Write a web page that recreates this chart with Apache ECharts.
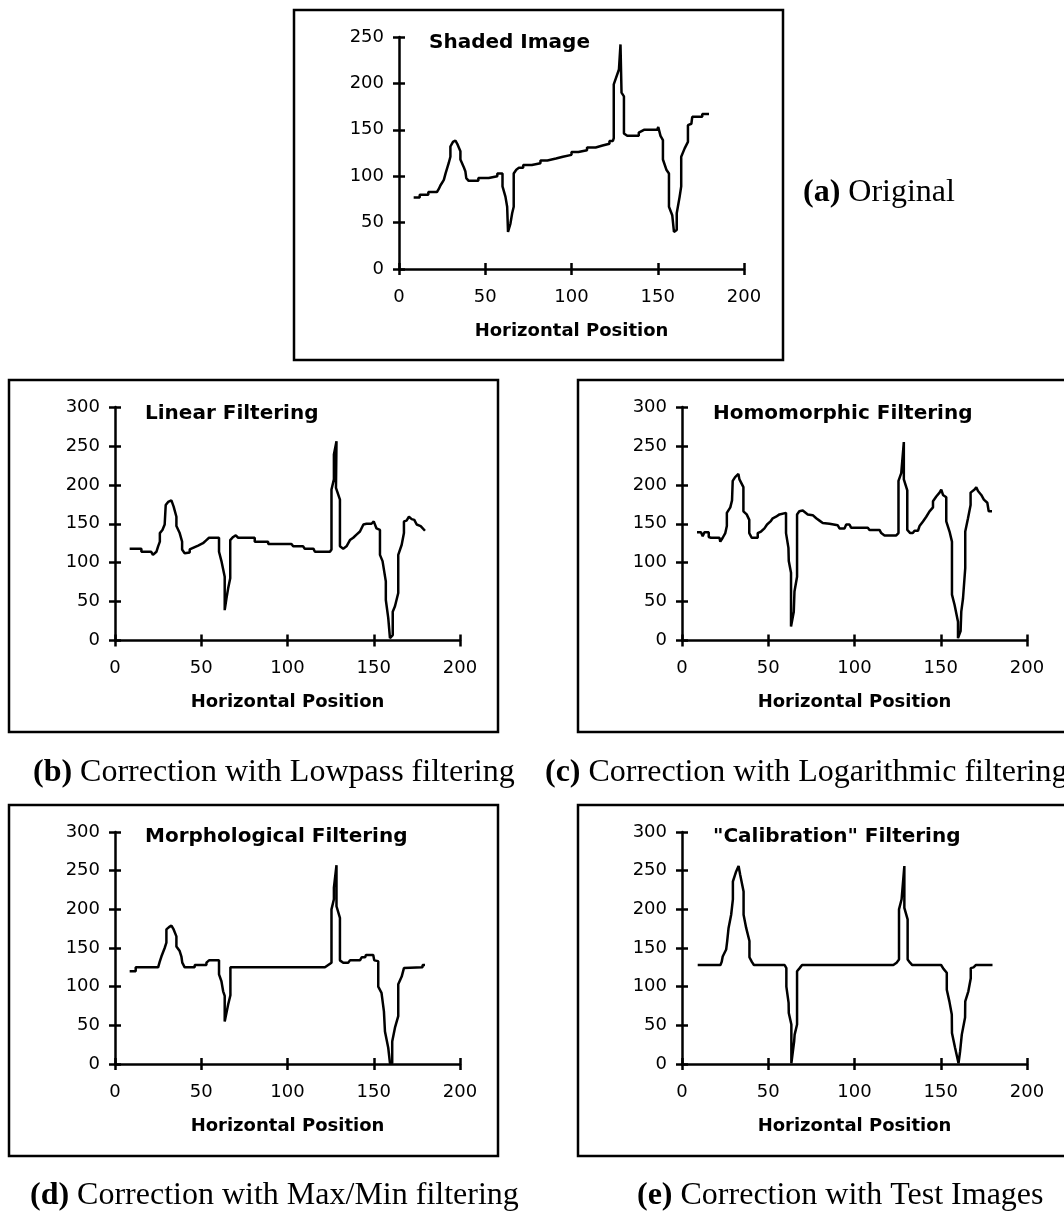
<!DOCTYPE html>
<html>
<head>
<meta charset="utf-8">
<script src="https://cdn.jsdelivr.net/npm/echarts@6/dist/echarts.min.js"></script>
<style>
  html, body { margin: 0; padding: 0; background: #fff; }
  #chart { width: 1064px; height: 1211px; }
</style>
</head>
<body>
<div id="chart"></div>
<script>
// line profiles, [horizontal position, value]
const shadedImage = [[8.5,77],[12,77],[12,80],[17,80],[17,83],[22,83],[23,86],[24,90],[26,96],[27,103],[28.8,114],[29.8,121],[29.8,132],[31.3,137],[32.7,138.5],[34,134],[35.6,127],[35.6,118],[37.5,110],[38.5,105],[39,98],[40.4,95],[46,95],[46,98],[52,98],[52,100],[57,100],[57,103],[60,103],[60,89],[61.7,78],[62.7,67],[63.2,40],[64.6,49],[65.6,60],[66.5,67],[66.5,103],[68,107],[69.5,109],[72,109],[72,112],[77,112],[77,114],[82,114],[82,117],[86,117],[86,119],[91,119],[91,121],[95,121],[95,123],[100,123],[100,126],[104,126],[104,128],[109,128],[109,131],[114,131],[114,133],[118,133],[118,135],[122,135],[122,138],[124,138],[124.5,141],[124.5,199],[127.5,215],[128.4,242],[129,190],[130.4,186],[130.4,146],[132.3,143.5],[139,143.5],[139,147],[142,150],[149.7,150],[150.3,153],[151.6,143.5],[153,139],[153,118],[155,107],[156.5,103],[156.5,67],[158.4,58],[159.4,40],[161,42],[161,60],[162.7,78],[163.6,89],[163.6,121],[165.6,130],[167.5,137],[167.5,155],[169.5,156.5],[170,164],[175.8,164],[175.8,167],[179.7,167]]

const linearFiltering = [[8.5,118],[15.3,118],[15.3,114],[21,114],[22,110],[24,114],[25,121],[26,127],[26,138],[27.5,142],[28.8,149],[29.4,174],[30.8,178],[32.7,180],[34,172],[35.6,159],[35.6,147],[37.5,138],[38.9,127],[38.9,117],[40.4,112],[43.3,113],[43.3,117],[46.2,120],[48.2,122],[51,125],[53,129],[54.5,132],[60.3,132],[60.3,114],[61.7,102],[63.6,82],[63.6,39],[64.6,54],[65.6,67],[66.8,80],[66.8,129],[68.5,133],[70,135],[71.4,132],[81,132],[81,127],[88.8,127],[88.8,124],[102.3,124],[103.3,121],[109,121],[110,118],[115,118],[115.9,114],[124.6,114],[125.5,117],[125.5,194],[126.9,207],[126.9,239],[128.4,256],[128.1,196],[130.4,181],[130.4,121],[132.3,118],[134.2,121],[136.2,129],[138.1,132],[140,136],[142,140],[144,149],[145.8,150],[148.7,150],[150,153],[151.6,144],[153.6,142],[153.6,110],[155.1,102],[157,76],[157,52],[158.4,29],[159.4,3],[161,7],[161,37],[162.3,44],[164.2,61],[164.2,110],[166.2,123],[167.5,138],[167.5,153],[169,154],[170.4,159],[172,156],[173.5,155],[174.9,149],[177.2,147],[179.7,141]]

const homomorphicFiltering = [[8.7,139],[11,139],[12,134],[13,139],[15.5,139],[15.5,133],[16.8,132],[21.7,132],[22.2,127],[23.6,132],[25.1,138],[26,147],[26,164],[28,171],[29,180],[29.4,205],[30.8,210],[32.7,214],[33.3,207],[35.6,197],[35.6,166],[37.5,162],[39,155],[39,138],[40.4,132],[43.9,132],[43.9,138],[45.8,140],[47.8,144],[49.3,149],[51.3,153],[52.6,157],[54.5,159],[56.5,162],[57.4,164],[60.3,164],[60.3,138],[61.7,119],[61.9,102],[63.2,87],[63.2,18],[64.8,37],[65.2,63],[66.7,82],[66.7,162],[68,166],[70,167],[72.9,162],[75.8,161],[77.8,157],[79.7,154],[81.6,151],[85.5,150],[90.3,148],[91.3,144],[94.2,144],[95.2,149],[97.1,149],[98,145],[107.7,145],[108.7,142],[114.5,142],[115.5,138],[117.4,135],[124.2,135],[125.5,138],[125.5,205],[127.1,215],[128.6,255],[128.6,207],[130.6,193],[130.6,142],[132.3,138],[133.8,138],[134.8,141],[136.8,141],[137.7,147],[139.7,153],[141.6,159],[143.5,166],[145.5,171],[145.5,179],[147.4,185],[149.3,190],[150.3,194],[151.3,187],[153.2,184],[153.2,153],[155.1,140],[156.5,127],[156.5,59],[158,46],[160,24],[160,3],[161.5,12],[161.9,37],[162.9,54],[164.2,93],[164.2,140],[165.8,157],[167.3,174],[167.3,190],[169.6,194],[170.6,197],[171.6,192],[173.5,187],[175,181],[177,177],[177.8,166],[179.7,166]]

const morphologicalFiltering = [[8.5,120],[12,120],[12,125],[25,125],[25.9,132],[26.9,139],[28.8,150],[29.8,157],[29.8,174],[31.3,177],[32.7,179],[34,174],[35.6,165],[35.6,152],[37.5,146],[38.5,139],[39,131],[40.4,125],[46.2,125],[46.2,128],[53,128],[53,131],[54.5,134],[60.3,134],[60.3,116],[61.7,107],[62.7,94],[63.6,88],[63.6,55],[64.6,66],[65.6,77],[66.9,89],[66.9,125],[121.7,125],[123.6,128],[125.5,131],[125.5,200],[126.9,213],[126.9,228],[128.4,257],[128.4,204],[130.4,189],[130.4,134],[132.3,131],[135.2,131],[136.2,134],[142,134],[143,138],[145,138],[145.5,141],[149.7,141],[150.3,134],[152.6,133],[152.6,100],[154.5,92],[155.9,68],[156.5,42],[158.4,21],[159.4,1],[160.7,1],[160.7,29],[162.3,47],[164.2,62],[164.2,103],[166.2,113],[167.5,124],[167.5,125],[178.3,125],[178.3,128],[179.7,128]]

const calibrationFiltering = [[9.1,128],[22.3,128],[23,132],[23.6,139],[25.6,148],[26.2,159],[27,176],[28.5,193],[29.5,213],[29.5,236],[31.4,249],[32.8,256],[33.7,245],[35.7,223],[35.7,193],[37.2,176],[39.1,159],[39.1,138],[40.5,132],[41.7,128],[59.5,128],[60.5,124],[60.5,100],[61.8,79],[61.9,66],[63.4,51],[63.4,1],[65,29],[65.3,38],[66.7,51],[66.7,120],[68.2,124],[69.6,128],[122.5,128],[124.4,131],[125.8,135],[125.8,200],[127.3,213],[128.9,256],[128.9,202],[130.8,187],[130.8,135],[132.2,131],[133.5,128],[150.2,128],[151.6,123],[153.5,118],[153.5,96],[155,81],[156.4,64],[156.5,40],[158.3,21],[160.3,1],[161.2,16],[162.2,38],[164.1,60],[164.2,81],[166,94],[167.4,111],[167.4,124],[169,125],[170.3,128],[180,128]]

const plotTitles = ['Shaded Image', 'Linear Filtering', 'Homomorphic Filtering', 'Morphological Filtering', '"Calibration" Filtering']
const yMax = [250, 300, 300, 300, 300]
const xAxisName = 'Horizontal Position'
const captionTags = ['(a)', '(b)', '(c)', '(d)', '(e)']
const captionTexts = ['Original', 'Correction with Lowpass filtering', 'Correction with Logarithmic filtering', 'Correction with Max/Min filtering', 'Correction with Test Images']

const profiles = [shadedImage, linearFiltering, homomorphicFiltering, morphologicalFiltering, calibrationFiltering]

// layout of the five panels (pixels)
const grids = [
  {left: 399, top: 37, width: 345, height: 232},
  {left: 115, top: 407, width: 345, height: 233.5},
  {left: 682, top: 407, width: 345, height: 233.5},
  {left: 115, top: 832, width: 345, height: 232},
  {left: 682, top: 832, width: 345, height: 232},
]
const frames = [
  {x: 294, y: 10, width: 489, height: 350},
  {x: 9, y: 380, width: 489, height: 352},
  {x: 578, y: 380, width: 520, height: 352},
  {x: 9, y: 805, width: 489, height: 351},
  {x: 578, y: 805, width: 520, height: 351},
]
const titlePos = [[429, 33], [145, 404], [713, 404], [145, 827], [713, 827]]
const captionPos = [[803, 193], [33, 773], [545, 773], [30, 1196], [637, 1196]]

const sans = 'DejaVu Sans'
const serif = 'Liberation Serif'
const black = '#000'

let xAxes = []
let yAxes = []
let series = []
for (let i = 0; i < 5; i++) {
  // main axes: line, outer ticks, labels
  xAxes.push({
    gridIndex: i, type: 'value', position: 'bottom', min: 0, max: 200, interval: 50,
    axisLine: {onZero: false, lineStyle: {color: black, width: 2.5}},
    axisTick: {length: 6, lineStyle: {color: black, width: 2.5}},
    axisLabel: {margin: 19, color: black, fontFamily: sans, fontSize: 18},
    splitLine: {show: false},
    name: xAxisName, nameLocation: 'middle', nameGap: 53,
    nameTextStyle: {color: black, fontFamily: sans, fontSize: 18, fontWeight: 'bold'},
  })
  yAxes.push({
    gridIndex: i, type: 'value', position: 'left', min: 0, max: yMax[i], interval: 50,
    axisLine: {show: true, onZero: false, lineStyle: {color: black, width: 2.5}},
    axisTick: {show: true, length: 6, lineStyle: {color: black, width: 2.5}},
    axisLabel: {margin: 15, color: black, fontFamily: sans, fontSize: 18},
    splitLine: {show: false},
  })
  // twin axes only for the inner half of the crossing ticks
  xAxes.push({
    gridIndex: i, type: 'value', position: 'bottom', min: 0, max: 200, interval: 50,
    axisLine: {show: false, onZero: false},
    axisTick: {inside: true, length: 6, lineStyle: {color: black, width: 2.5}},
    axisLabel: {show: false}, splitLine: {show: false},
  })
  yAxes.push({
    gridIndex: i, type: 'value', position: 'left', min: 0, max: yMax[i], interval: 50,
    axisLine: {show: false, onZero: false},
    axisTick: {show: true, inside: true, length: 6, lineStyle: {color: black, width: 2.5}},
    axisLabel: {show: false}, splitLine: {show: false},
  })
  series.push({
    type: 'line', xAxisIndex: i * 2, yAxisIndex: i * 2,
    data: profiles[i], showSymbol: false, silent: true,
    lineStyle: {color: black, width: 2.5},
  })
}

let graphics = []
for (let i = 0; i < 5; i++) {
  graphics.push({
    type: 'rect', shape: frames[i], silent: true,
    style: {fill: 'none', stroke: black, lineWidth: 2.5},
  })
  graphics.push({
    type: 'text', x: captionPos[i][0], y: captionPos[i][1], silent: true,
    style: {
      text: '{b|' + captionTags[i] + '} ' + captionTexts[i],
      fontFamily: serif, fontSize: 32, fill: black, verticalAlign: 'middle',
      rich: {b: {fontFamily: serif, fontSize: 32, fontWeight: 'bold', fill: black}},
    },
  })
}

const myChart = echarts.init(document.getElementById('chart'))
myChart.setOption({
  animation: false,
  backgroundColor: '#fff',
  title: plotTitles.map((t, i) => ({
    text: t, left: titlePos[i][0], top: titlePos[i][1], padding: 0,
    textStyle: {color: black, fontFamily: sans, fontSize: 20, fontWeight: 'bold'},
  })),
  grid: grids,
  xAxis: xAxes,
  yAxis: yAxes,
  series: series,
  graphic: graphics,
})
</script>
</body>
</html>
